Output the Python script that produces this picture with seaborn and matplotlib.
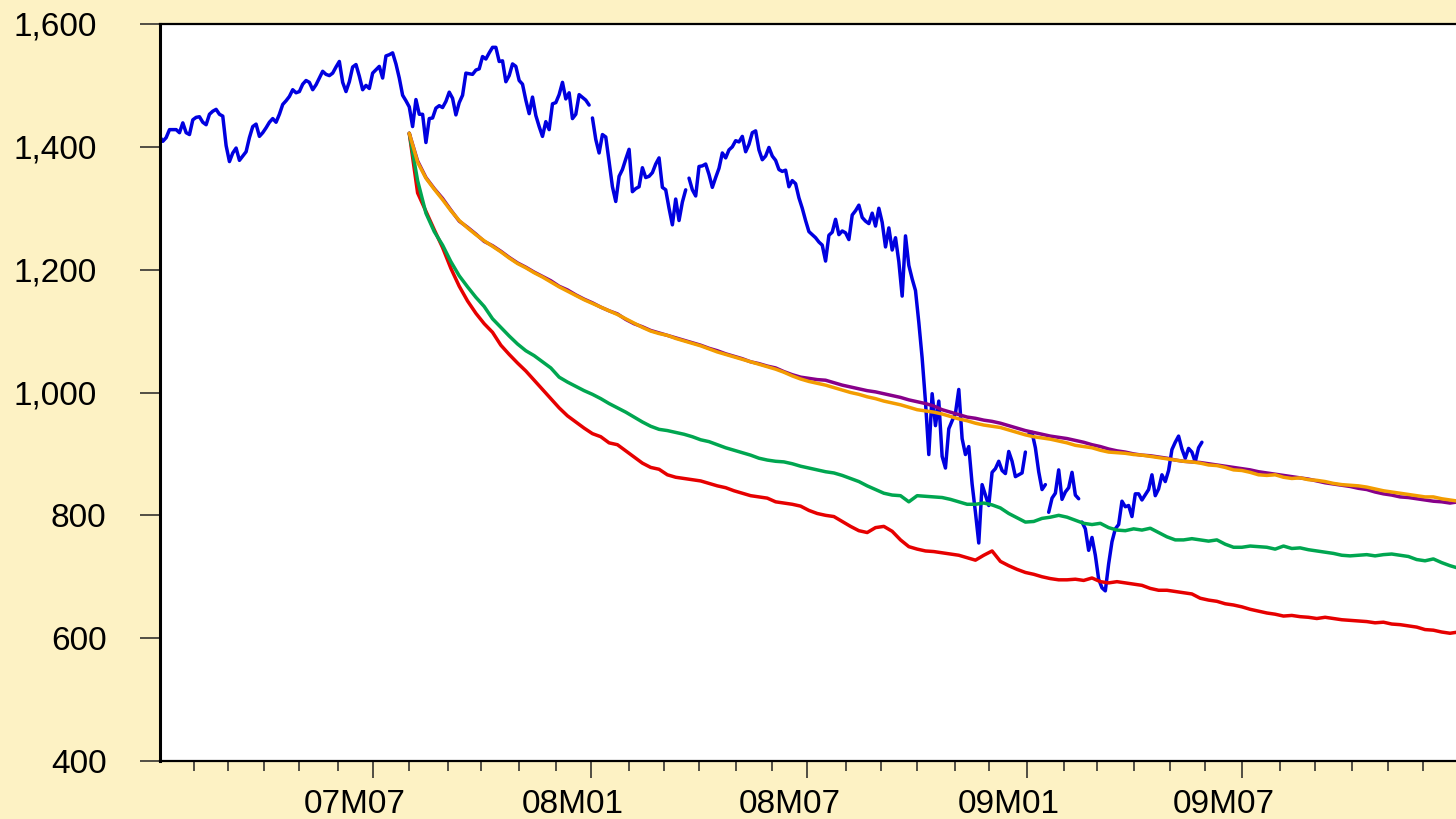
import numpy as np
import pandas as pd
import matplotlib
matplotlib.use("Agg")
import matplotlib.pyplot as plt
import matplotlib.transforms as mtransforms
import seaborn as sns

# ---------------------------------------------------------------- data
# Weekday (5-day) calendar of the workfile.
calendar_start = "2007-01-03"
calendar_end = "2009-12-31"
# NA days where the price line is visibly interrupted
line_breaks = ["2008-01-01", "2008-03-21", "2009-01-01", "2009-01-19", "2009-02-16"]

# S&P 500 close, every second weekday from 2007-01-03 (None = market closed)
sp500_step = 2
sp500 = [
    # 2007 Jan
    1417, 1409, 1415, 1428, None, 1428, 1423, 1439, 1423, 1420, 1444,
    # Feb
    1448, 1449, 1440, 1436, 1453, 1458, 1461, 1453, 1450, 1402,
    # Mar
    1376, 1390, 1398, 1378, 1385, 1392, 1415, 1433, 1437, 1417, 1423,
    # Apr
    1431, 1440, 1446, 1440, 1453, 1469, 1475, 1482, 1493, 1488,
    # May
    1490, 1502, 1508, 1505, 1493, 1501, 1512, 1523, 1518, 1516, 1520, 1530,
    # Jun
    1539, 1505, 1490, 1506, 1530, 1534, 1515, 1493, 1500, 1495,
    # Jul
    1520, None, 1531, 1512, 1548, 1550, 1553, 1535, 1512, 1484, 1475,
    # Aug
    1465, 1433, 1477, 1453, 1453, 1407, 1446, 1447, 1463, 1467, 1464, 1474,
    # Sep
    1489, 1479, 1452, 1472, 1484, 1520, 1519, 1518, 1525, 1527,
    # Oct
    1547, 1543, 1553, 1562, 1562, 1539, 1540, 1506, 1516, 1535, 1531,
    # Nov
    1508, 1502, 1476, 1454, 1481, 1451, 1433, 1417, 1441, 1428, 1470,
    # Dec
    1472, 1485, 1505, 1478, 1488, 1446, 1453, 1485, None, 1476, 1468,
    # 2008 Jan
    1447, 1412, 1390, 1420, 1416, 1376, 1335, 1311, 1352, 1363, 1380,
    # Feb
    1396, 1327, 1332, 1335, 1366, 1350, 1352, 1358, 1372, 1382, 1334,
    # Mar
    1330, 1300, 1273, 1315, 1280, 1310, 1330, 1349, 1330, 1320,
    # Apr
    1368, 1369, 1372, 1355, 1334, 1350, 1365, 1390, 1382, 1395, 1400,
    # May
    1410, 1408, 1417, 1392, 1404, 1423, 1426, 1395, 1379, 1385, 1399,
    # Jun
    1385, 1378, 1363, 1360, 1362, 1335, 1345, 1340, 1317, 1300, 1280,
    # Jul
    1262, None, 1252, 1245, 1240, 1214, 1256, 1261, 1282, 1257, 1263,
    # Aug
    1260, 1249, 1289, 1296, 1305, 1285, 1279, 1275, 1292, 1271, 1300,
    # Sep
    1277, 1237, 1268, 1232, 1252, 1213, 1157, 1255, 1207, 1185, 1166,
    # Oct
    1114, 1056, 985, 899, 998, 946, 986, 896, 877, 941, 954,
    # Nov
    966, 1005, 925, 899, 912, 851, 805, 755, 850, None,
    # Dec
    816, 870, 876, 888, 873, 868, 904, 888, 863, None, 869, 903,
    # 2009 Jan
    932, 935, 910, 871, 842, 850, 805, 828, 836, 874, 826,
    # Feb
    838, 845, 870, 833, 827, 789, 778, 743, 764, 735,
    # Mar
    696, 682, 677, 721, 757, 778, 785, 823, 814, 816, 798,
    # Apr
    835, 835, 825, None, 842, 866, 832, 843, 866, 855, 873,
    # May
    907, 919, 929, 908, 893, 909, 903, 887, 910, 919,
]

# Forecast paths, weekly (every fifth weekday) from 2007-08-01
forecast_start = "2007-08-01"
forecast_step = 5
fc_red = [
    1422, 1325, 1295, 1265, 1236, 1202, 1173, 1149, 1129, 1112, 1098, 1077,
    1062, 1048, 1035, 1020, 1005, 990, 975, 962, 952, 942, 933, 928, 918,
    915, 905, 895, 885, 878, 875, 866, 862, 860, 858, 856, 852, 848, 845,
    840, 836, 832, 830, 828, 822, 820, 818, 815, 808, 803, 800, 798, 790,
    782, 775, 772, 780, 782, 774, 760, 749, 745, 742, 741, 739, 737, 735,
    731, 727, 735, 742, 725, 718, 712, 707, 704, 700, 697, 695, 695, 696,
    694, 698, 692, 690, 692, 690, 688, 686, 681, 678, 678, 676, 674, 672,
    665, 662, 660, 656, 654, 651, 647, 644, 641, 639, 636, 637, 635, 634,
    632, 634, 632, 630, 629, 628, 627, 625, 626, 623, 622, 620, 618, 614,
    613, 610, 608, 610,
]
fc_green = [
    1422, 1345, 1292, 1262, 1240, 1213, 1190, 1172, 1155, 1140, 1120, 1106,
    1092, 1079, 1068, 1060, 1050, 1040, 1025, 1017, 1010, 1003, 997, 990,
    982, 975, 968, 960, 952, 945, 940, 938, 935, 932, 928, 923, 920, 915,
    910, 906, 902, 898, 893, 890, 888, 887, 884, 880, 877, 874, 871, 869,
    865, 860, 855, 848, 842, 836, 833, 832, 822, 832, 831, 830, 829, 826,
    822, 818, 818, 820, 817, 812, 803, 796, 789, 790, 795, 797, 800, 797,
    792, 787, 785, 787, 780, 776, 775, 778, 776, 779, 772, 765, 760, 760,
    762, 760, 758, 760, 753, 748, 748, 750, 749, 748, 745, 750, 746, 747,
    744, 742, 740, 738, 735, 734, 735, 736, 734, 736, 737, 735, 733, 728,
    726, 729, 723, 718, 714,
]
fc_purple = [
    1422, 1377, 1350, 1332, 1316, 1297, 1279, 1269, 1258, 1246, 1239, 1230,
    1220, 1211, 1204, 1196, 1189, 1182, 1173, 1167, 1159, 1152, 1146, 1139,
    1133, 1128, 1119, 1112, 1107, 1101, 1097, 1093, 1089, 1085, 1081, 1077,
    1072, 1068, 1063, 1059, 1055, 1050, 1047, 1043, 1040, 1034, 1029, 1025,
    1023, 1021, 1020, 1016, 1012, 1009, 1006, 1003, 1001, 998, 995, 992,
    988, 985, 982, 978, 972, 968, 964, 960, 958, 955, 953, 950, 946, 942,
    938, 935, 932, 929, 927, 925, 922, 919, 915, 912, 908, 905, 903, 900,
    898, 897, 895, 893, 890, 888, 887, 886, 884, 882, 880, 878, 876, 874,
    871, 869, 867, 865, 863, 861, 859, 856, 853, 851, 849, 847, 844, 842,
    838, 835, 833, 830, 829, 827, 825, 823, 822, 820, 822,
]
fc_orange = [
    1422, 1375, 1349, 1331, 1314, 1296, 1280, 1268, 1257, 1247, 1238, 1229,
    1219, 1210, 1203, 1195, 1188, 1180, 1172, 1165, 1158, 1151, 1145, 1139,
    1133, 1127, 1120, 1113, 1106, 1100, 1096, 1093, 1088, 1084, 1080, 1076,
    1071, 1066, 1062, 1058, 1054, 1050, 1046, 1042, 1038, 1033, 1027, 1022,
    1018, 1015, 1012, 1008, 1004, 1000, 997, 993, 990, 986, 983, 980, 976,
    972, 970, 968, 965, 961, 957, 954, 950, 947, 945, 943, 939, 935, 931,
    928, 926, 924, 921, 918, 914, 912, 910, 906, 903, 902, 901, 899, 898,
    896, 894, 892, 890, 888, 887, 885, 882, 881, 878, 874, 873, 870, 866,
    865, 866, 862, 860, 861, 858, 857, 855, 852, 850, 849, 848, 846, 843,
    840, 838, 836, 834, 832, 830, 830, 827, 825, 823,
]

series_order = ["S&P 500", "Forecast A", "Forecast B", "Forecast C", "Forecast D"]
series_colors = ["#0000E0", "#E60000", "#00A650", "#87008A", "#F39C00"]

month_label_fmt = "%yM%m"

# ---------------------------------------------------------------- frame
days = pd.bdate_range(calendar_start, calendar_end)
break_pos = np.sort(days.get_indexer(pd.to_datetime(line_breaks)))


def series_frame(name, values, start, step, use_breaks):
    x0 = days.get_loc(pd.Timestamp(start))
    x = x0 + step * np.arange(len(values))
    y = np.array([np.nan if v is None else v for v in values], dtype=float)
    if use_breaks:
        seg = np.searchsorted(break_pos, x, side="right")
    else:
        seg = np.zeros(len(x), dtype=int)
    df = pd.DataFrame({"obs": x, "value": y, "series": name, "seg": seg})
    return df.dropna()


frames = [
    series_frame(series_order[0], sp500, calendar_start, sp500_step, True),
    series_frame(series_order[1], fc_red, forecast_start, forecast_step, False),
    series_frame(series_order[2], fc_green, forecast_start, forecast_step, False),
    series_frame(series_order[3], fc_purple, forecast_start, forecast_step, False),
    series_frame(series_order[4], fc_orange, forecast_start, forecast_step, False),
]
data = pd.concat(frames, ignore_index=True)

# ---------------------------------------------------------------- style
sns.set_style("ticks")
plt.rcParams["font.family"] = ["Liberation Sans", "DejaVu Sans"]
bg = "#FDF2C4"

W, H, DPI = 1456, 819, 100
fig = plt.figure(figsize=(W / DPI, H / DPI), dpi=DPI)
fig.patch.set_facecolor(bg)
left_px, right_px, top_px, bottom_px = 159.5, 1460.0, 24.0, 761.0
ax = fig.add_axes([left_px / W, 1 - bottom_px / H,
                   (right_px - left_px) / W, (bottom_px - top_px) / H])
ax.set_facecolor("white")

sns.lineplot(
    data=data, x="obs", y="value", hue="series", units="seg",
    estimator=None, sort=False, hue_order=series_order,
    palette=dict(zip(series_order, series_colors)),
    linewidth=2.5, legend=False, ax=ax,
    solid_joinstyle="round", solid_capstyle="round",
)

ax.set_xlim(0, len(days) - 1)
ax.set_ylim(400, 1600)
ax.set_xlabel("")
ax.set_ylabel("")

# month ticks: long ticks + labels at January / July, short ticks elsewhere
month_first = pd.Series(np.arange(len(days)), index=days).groupby(
    [days.year, days.month]).first()
major_pos, major_lab, minor_pos = [], [], []
for (yy, mm), p in month_first.items():
    if p == 0:
        continue
    if mm in (1, 7):
        major_pos.append(p)
        major_lab.append(pd.Timestamp(year=yy, month=mm, day=1).strftime(month_label_fmt))
    else:
        minor_pos.append(p)
ax.set_xticks(major_pos)
ax.set_xticklabels(major_lab)
ax.set_xticks(minor_pos, minor=True)

yticks = np.arange(400, 1601, 200)
ax.set_yticks(yticks)
ax.set_yticklabels([f"{v:,}" for v in yticks])

fs = 24
ax.tick_params(axis="y", which="major", direction="out", length=14.4, width=1.1,
               color="#222222", pad=23.8, labelsize=fs, labelcolor="black")
ax.tick_params(axis="x", which="major", direction="out", length=12.2, width=1.1,
               color="#222222", pad=8, labelsize=fs, labelcolor="black")
ax.tick_params(axis="x", which="minor", direction="out", length=7.2, width=1.1,
               color="#222222")

for side in ("left", "top", "bottom"):
    ax.spines[side].set_visible(True)
    ax.spines[side].set_color("black")
ax.spines["left"].set_linewidth(2.2)
ax.spines["top"].set_linewidth(1.6)
ax.spines["bottom"].set_linewidth(1.6)
ax.spines["right"].set_visible(False)
ax.grid(False)

# date labels sit a little to the left of their ticks
shift_x = mtransforms.ScaledTranslation(-18 / DPI, 0, fig.dpi_scale_trans)
for lab in ax.get_xticklabels():
    lab.set_transform(lab.get_transform() + shift_x)
# value labels are laid out with fixed-width digits, so the comma leaves a gap
comma_gap = 0.278 * fs / 72
for lab in ax.get_yticklabels():
    if "," in lab.get_text():
        lab.set_transform(lab.get_transform() +
                          mtransforms.ScaledTranslation(-comma_gap, 0, fig.dpi_scale_trans))

fig.savefig("out.png", dpi=DPI, facecolor=fig.get_facecolor())
